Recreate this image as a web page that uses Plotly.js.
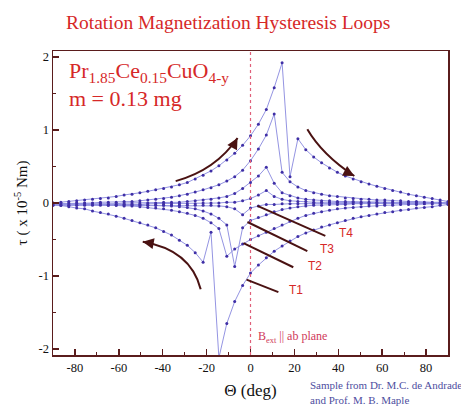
<!DOCTYPE html>
<html>
<head>
<meta charset="utf-8">
<script src="https://cdn.plot.ly/plotly-3.0.1.min.js"></script>
<style>
  html, body { margin: 0; padding: 0; background: #fff; }
  #chart { width: 461px; height: 407px; }
</style>
</head>
<body>
<div id="chart"></div>
<script>
// Rotation angle of the field (degrees), common to every sweep
const theta = [-90, -86.4, -82.8, -79.2, -75.6, -72, -68.4, -64.8, -61.2, -57.6,
  -54, -50.4, -46.8, -43.2, -39.6, -36, -32.4, -28.8, -25.2, -21.6,
  -18, -14.4, -10.8, -7.2, -3.6, 0, 3.6, 7.2, 10.8, 14.4,
  18, 21.6, 25.2, 28.8, 32.4, 36, 39.6, 43.2, 46.8, 50.4,
  54, 57.6, 61.2, 64.8, 68.4, 72, 75.6, 79.2, 82.8, 86.4, 90];

// Torque (x 1e-5 Nm), increasing-angle sweeps (upper branches)
const t1Up = [0.00, 0.01, 0.02, 0.03, 0.04, 0.05, 0.06, 0.07, 0.09, 0.11,
  0.12, 0.14, 0.16, 0.18, 0.20, 0.22, 0.25, 0.28, 0.33, 0.38,
  0.44, 0.51, 0.59, 0.68, 0.79, 0.92, 1.08, 1.28, 1.58, 1.92,
  0.36, 0.88, 0.73, 0.63, 0.55, 0.48, 0.42, 0.37, 0.33, 0.29,
  0.26, 0.23, 0.20, 0.17, 0.15, 0.12, 0.10, 0.08, 0.06, 0.04, 0.02];
const t2Up = [-0.01, -0.01, 0.00, 0.00, 0.00, 0.00, 0.01, 0.01, 0.01, 0.02,
  0.02, 0.03, 0.04, 0.05, 0.06, 0.08, 0.10, 0.12, 0.15, 0.18,
  0.21, 0.25, 0.30, 0.36, 0.45, 0.58, 0.74, 0.93, 1.22, 0.42,
  0.29, 0.22, 0.17, 0.14, 0.12, 0.10, 0.09, 0.07, 0.06, 0.05,
  0.05, 0.04, 0.04, 0.03, 0.03, 0.02, 0.02, 0.01, 0.01, 0.01, 0.00];
const t3Up = [-0.02, -0.02, -0.02, -0.01, -0.01, -0.01, -0.01, -0.01, -0.01, 0.00,
  0.00, 0.00, 0.00, 0.00, 0.01, 0.01, 0.01, 0.02, 0.03, 0.04,
  0.05, 0.07, 0.09, 0.13, 0.20, 0.28, 0.37, 0.49, 0.27, 0.14,
  0.10, 0.07, 0.05, 0.04, 0.03, 0.03, 0.02, 0.02, 0.02, 0.01,
  0.01, 0.01, 0.01, 0.01, 0.00, 0.00, 0.00, 0.00, 0.00, 0.00, 0.00];
const t4Up = [-0.03, -0.03, -0.03, -0.03, -0.02, -0.02, -0.02, -0.02, -0.02, -0.02,
  -0.02, -0.02, -0.01, -0.01, -0.01, -0.01, -0.01, -0.01, -0.01, 0.00,
  0.00, 0.00, 0.01, 0.01, 0.03, 0.06, 0.11, 0.17, 0.09, 0.05,
  0.03, 0.02, 0.02, 0.01, 0.01, 0.01, 0.01, 0.00, 0.00, 0.00,
  0.00, 0.00, 0.00, 0.00, 0.00, 0.00, 0.00, 0.00, 0.00, 0.00, 0.00];

// Torque (x 1e-5 Nm), decreasing-angle sweeps (lower branches), same angle order
const t1Down = [-0.02, -0.03, -0.05, -0.07, -0.08, -0.11, -0.13, -0.15, -0.18, -0.21,
  -0.24, -0.27, -0.30, -0.34, -0.39, -0.44, -0.51, -0.58, -0.68, -0.81,
  -0.40, -2.12, -1.65, -1.35, -1.13, -0.96, -0.85, -0.75, -0.66, -0.59,
  -0.52, -0.46, -0.41, -0.37, -0.33, -0.30, -0.27, -0.24, -0.21, -0.19,
  -0.17, -0.15, -0.13, -0.12, -0.10, -0.09, -0.07, -0.06, -0.05, -0.03, -0.02];
const t2Down = [0.00, -0.01, -0.01, -0.01, -0.02, -0.02, -0.02, -0.03, -0.03, -0.04,
  -0.04, -0.05, -0.06, -0.07, -0.08, -0.10, -0.12, -0.14, -0.17, -0.21,
  -0.27, -0.35, -0.73, -0.63, -0.56, -0.50, -0.45, -0.40, -0.35, -0.30,
  -0.25, -0.21, -0.17, -0.14, -0.12, -0.10, -0.08, -0.07, -0.06, -0.05,
  -0.04, -0.04, -0.03, -0.03, -0.02, -0.02, -0.02, -0.01, -0.01, -0.01, 0.00];
const t3Down = [-0.01, -0.01, -0.01, -0.01, -0.01, -0.01, -0.01, -0.02, -0.02, -0.02,
  -0.02, -0.02, -0.03, -0.03, -0.03, -0.04, -0.05, -0.06, -0.08, -0.11,
  -0.15, -0.21, -0.30, -0.87, -0.34, -0.24, -0.20, -0.16, -0.12, -0.09,
  -0.07, -0.05, -0.04, -0.03, -0.03, -0.02, -0.02, -0.02, -0.01, -0.01,
  -0.01, -0.01, -0.01, -0.01, -0.01, 0.00, 0.00, 0.00, 0.00, 0.00, 0.00];
const t4Down = [-0.03, -0.03, -0.03, -0.03, -0.03, -0.03, -0.03, -0.03, -0.03, -0.03,
  -0.03, -0.03, -0.03, -0.03, -0.03, -0.03, -0.03, -0.03, -0.03, -0.03,
  -0.03, -0.04, -0.05, -0.08, -0.16, -0.07, -0.04, -0.02, -0.02, -0.01,
  -0.01, -0.01, -0.01, -0.01, 0.00, 0.00, 0.00, 0.00, 0.00, 0.00,
  0.00, 0.00, 0.00, 0.00, 0.00, 0.00, 0.00, 0.00, 0.00, 0.00, 0.00];

const sweeps = [t1Up, t2Up, t3Up, t4Up, t1Down, t2Down, t3Down, t4Down];

// Axis tick positions and their printed labels
const xTickVals = [-80, -60, -40, -20, 0, 20, 40, 60, 80];
const xTickText = ['-80', '-60', '-40', '-20', '0', '20', '40', '60', '80'];
const yTickVals = [-2, -1, 0, 1, 2];
const yTickText = ['-2', '-1', '0', '1', '2'];

const serif = 'Liberation Serif, Times New Roman, serif';
const frame = '#5a1c1c';
const red = '#d62828';
const arrowColor = '#4a1212';

const traces = sweeps.map(v => ({
  x: theta,
  y: v,
  type: 'scatter',
  mode: 'lines+markers',
  line: { color: '#9494e2', width: 1 },
  marker: { color: '#3f2fa6', size: 3 },
  hoverinfo: 'skip',
  showlegend: false
}));

const shapes = [
  // field parallel to the ab plane
  { type: 'line', xref: 'x', yref: 'paper', x0: 0, x1: 0, y0: 0, y1: 1,
    line: { color: '#e0607a', width: 1.2, dash: 'dot' } },
  // sweep-direction arrows
  { type: 'path', xref: 'x', yref: 'y', path: 'M -34.1,0.30 Q -15.9,0.45 -5.9,0.89',
    line: { color: arrowColor, width: 2 } },
  { type: 'path', xref: 'x', yref: 'y', path: 'M 25.9,1.01 Q 32.7,0.66 47.3,0.37',
    line: { color: arrowColor, width: 2 } },
  { type: 'path', xref: 'x', yref: 'y', path: 'M -22.7,-1.18 Q -27.3,-0.64 -49.1,-0.53',
    line: { color: arrowColor, width: 2 } },
  // temperature leader lines
  { type: 'line', xref: 'x', yref: 'y', x0: 3.2, y0: -0.04, x1: 34.1, y1: -0.45,
    line: { color: arrowColor, width: 2 } },
  { type: 'line', xref: 'x', yref: 'y', x0: -1.4, y0: -0.26, x1: 25.9, y1: -0.66,
    line: { color: arrowColor, width: 2 } },
  { type: 'line', xref: 'x', yref: 'y', x0: -3.2, y0: -0.55, x1: 19.5, y1: -0.88,
    line: { color: arrowColor, width: 2 } },
  { type: 'line', xref: 'x', yref: 'y', x0: -1.8, y0: -1.05, x1: 12.7, y1: -1.22,
    line: { color: arrowColor, width: 2 } }
];

function head(x, y, ax, ay) {
  return { x, y, ax, ay, xref: 'x', yref: 'y', axref: 'x', ayref: 'y', text: '',
    showarrow: true, arrowhead: 2, arrowsize: 1.1, arrowwidth: 2, arrowcolor: arrowColor };
}

function tLabel(text, x, y) {
  return { text, x, y, xref: 'x', yref: 'y', xanchor: 'left', yanchor: 'middle',
    showarrow: false, font: { family: 'Liberation Sans, Arial, sans-serif', size: 12, color: red } };
}

function note(text, y) {
  return { text, xref: 'paper', yref: 'paper', x: (308 - 53) / 395, y,
    xanchor: 'left', yanchor: 'middle', showarrow: false,
    font: { family: serif, size: 11, color: '#4e4ea0' } };
}

const annotations = [
  head(-5.9, 0.89, -8.5, 0.75),
  head(47.3, 0.37, 43.5, 0.43),
  head(-49.1, -0.53, -45.5, -0.55),
  tLabel('T4', 39.2, -0.41),
  tLabel('T3', 30.8, -0.63),
  tLabel('T2', 25.3, -0.86),
  tLabel('T1', 16.6, -1.19),
  { text: 'Pr<sub>1.85</sub>Ce<sub>0.15</sub>CuO<sub>4-y</sub>', xref: 'paper', yref: 'paper',
    x: 0.035, y: 0.93, xanchor: 'left', yanchor: 'middle', showarrow: false,
    font: { family: serif, size: 22, color: red } },
  { text: 'm = 0.13 mg', xref: 'paper', yref: 'paper',
    x: 0.035, y: 0.845, xanchor: 'left', yanchor: 'middle', showarrow: false,
    font: { family: serif, size: 22, color: red } },
  { text: 'B<sub>ext</sub> || ab plane', xref: 'x', yref: 'paper',
    x: 2.6, y: 0.06, xanchor: 'left', yanchor: 'middle', showarrow: false,
    font: { family: serif, size: 12, color: '#d03a5a' } },
  note('Sample from Dr. M.C. de Andrade', -0.099),
  note('and Prof. M. B. Maple', -0.148)
];

const axisCommon = {
  showline: true, mirror: true, linecolor: frame, linewidth: 1.5,
  ticks: 'inside', ticklen: 6, tickwidth: 1.5, tickcolor: frame,
  showgrid: false, zeroline: false, tickmode: 'array',
  tickfont: { family: serif, size: 12.5, color: '#111' }
};

const layout = {
  width: 461, height: 407,
  margin: { l: 53, r: 13, t: 51, b: 52 },
  paper_bgcolor: '#fff', plot_bgcolor: '#fff',
  title: { text: 'Rotation Magnetization Hysteresis Loops',
    font: { family: serif, size: 19.5, color: red },
    x: 0.495, xref: 'container', xanchor: 'center', y: 0.946, yref: 'container', yanchor: 'middle' },
  xaxis: Object.assign({}, axisCommon, {
    range: [-90, 90], tickvals: xTickVals, ticktext: xTickText,
    minor: { dtick: 10, tick0: 0, ticks: 'inside', ticklen: 3, tickcolor: frame, tickwidth: 1.2 },
    title: { text: 'Θ (deg)', font: { family: serif, size: 17, color: '#111' }, standoff: 10 }
  }),
  yaxis: Object.assign({}, axisCommon, {
    range: [-2.082, 2.082], tickvals: yTickVals, ticktext: yTickText,
    minor: { dtick: 0.5, tick0: 0, ticks: 'inside', ticklen: 3, tickcolor: frame, tickwidth: 1.2 },
    title: { text: 'τ ( x 10<sup>-5</sup> Nm)', font: { family: serif, size: 15, color: '#111' }, standoff: 7 }
  }),
  shapes, annotations
};

Plotly.newPlot('chart', traces, layout, { staticPlot: true, displayModeBar: false });
</script>
</body>
</html>
